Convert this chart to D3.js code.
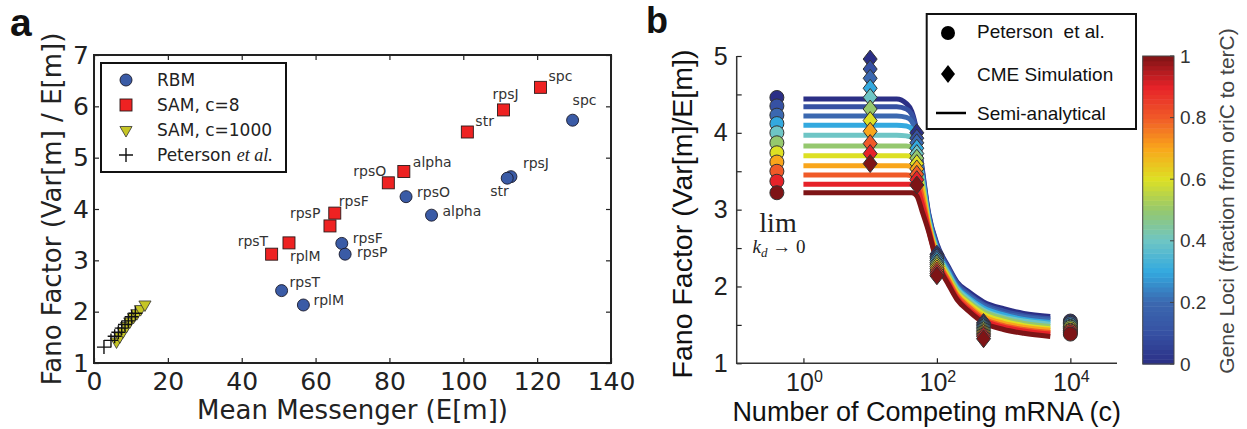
<!DOCTYPE html>
<html>
<head>
<meta charset="utf-8">
<script src="https://d3js.org/d3.v7.min.js"></script>
<style>
  body { margin: 0; background: #fff; }
  svg { display: block; }
</style>
</head>
<body>
<div id="chart"></div>
<script>
// ---------- panel a data ----------
var rbmGenes = ["spc", "rpsJ", "str", "rpsO", "alpha", "rpsF", "rpsP", "rpsT", "rplM"];
var rbmMean  = [129.6, 112.9, 111.9, 84.5, 91.4, 67.1, 68.0, 50.8, 56.7];
var rbmFano  = [5.73, 4.63, 4.60, 4.24, 3.88, 3.33, 3.12, 2.41, 2.13];

var samGenes = ["spc", "rpsJ", "str", "alpha", "rpsO", "rpsF", "rpsP", "rpsT", "rplM"];
var samMean  = [120.9, 110.9, 101.1, 83.9, 79.7, 65.2, 63.9, 48.1, 52.8];
var samFano  = [6.37, 5.93, 5.50, 4.73, 4.51, 3.92, 3.67, 3.12, 3.34];

var sam1000Mean = [6.1, 7.0, 7.9, 8.8, 9.7, 10.7, 11.6, 12.6, 13.8];
var sam1000Fano = [1.42, 1.52, 1.62, 1.72, 1.81, 1.90, 1.97, 2.05, 2.14];

var petersonMean = [2.7, 4.6, 5.6, 6.6, 7.5, 8.4, 9.3, 10.2, 11.2];
var petersonFano = [1.31, 1.44, 1.52, 1.60, 1.68, 1.75, 1.82, 1.90, 1.97];

var xTicksA = [0, 20, 40, 60, 80, 100, 120, 140];
var yTicksA = [1, 2, 3, 4, 5, 6, 7];

// label offsets (px) for the gene annotations
var rbmLabelDx = [0, 12, -17, 11, 11, 11, 12, 8, 10];
var rbmLabelDy = [-15, -9, 18, 0, 1, 0, 3, -4, 0];
var samLabelDx = [8, -11, 8, 9, -35, 4, -40, -34, 1];
var samLabelDy = [-6, -11, -6, -5, -7, -7, -8, -8, 18];

// ---------- panel b data ----------
var geneLoci = [0, 0.1, 0.2, 0.3, 0.4, 0.5, 0.6, 0.7, 0.8, 0.9, 1.0];
var limC = 0.4;   // where the k_d -> 0 limit is drawn
var petersonLim = [4.46, 4.35, 4.23, 4.12, 4.00, 3.87, 3.74, 3.62, 3.50, 3.37, 3.22];
var petersonC = 10000;
var peterson1e4 = [1.55, 1.53, 1.52, 1.50, 1.48, 1.47, 1.45, 1.43, 1.42, 1.40, 1.38];

var cmeC = [10, 50, 100, 500];
var cme10  = [4.96, 4.83, 4.71, 4.58, 4.46, 4.31, 4.16, 4.02, 3.86, 3.73, 3.60];
var cme50  = [4.00, 3.93, 3.87, 3.80, 3.73, 3.67, 3.60, 3.53, 3.46, 3.39, 3.32];
var cme100 = [2.42, 2.39, 2.37, 2.34, 2.31, 2.29, 2.26, 2.23, 2.20, 2.17, 2.14];
var cme500 = [1.53, 1.51, 1.49, 1.47, 1.45, 1.43, 1.41, 1.39, 1.37, 1.35, 1.32];

var semiC = [1, 25, 35, 42, 50, 60, 75, 100, 150, 200, 300, 500, 1000, 2000, 5000];
var semiF = [
  [4.44, 4.44, 4.38, 4.28, 4.02, 3.55, 2.96, 2.56, 2.25, 2.06, 1.93, 1.80, 1.71, 1.65, 1.61],
  [4.34, 4.34, 4.31, 4.24, 3.99, 3.52, 2.94, 2.54, 2.23, 2.04, 1.90, 1.77, 1.68, 1.62, 1.58],
  [4.22, 4.22, 4.20, 4.15, 3.93, 3.48, 2.91, 2.51, 2.21, 2.01, 1.88, 1.75, 1.65, 1.60, 1.56],
  [4.10, 4.10, 4.09, 4.05, 3.86, 3.44, 2.89, 2.49, 2.18, 1.99, 1.85, 1.72, 1.63, 1.57, 1.53],
  [3.97, 3.97, 3.96, 3.94, 3.79, 3.40, 2.86, 2.46, 2.16, 1.97, 1.83, 1.69, 1.60, 1.55, 1.51],
  [3.83, 3.83, 3.83, 3.81, 3.70, 3.35, 2.84, 2.44, 2.14, 1.95, 1.80, 1.67, 1.58, 1.52, 1.48],
  [3.70, 3.70, 3.70, 3.69, 3.61, 3.30, 2.82, 2.42, 2.11, 1.92, 1.78, 1.64, 1.55, 1.49, 1.45],
  [3.57, 3.57, 3.57, 3.56, 3.51, 3.24, 2.79, 2.39, 2.09, 1.90, 1.75, 1.61, 1.52, 1.47, 1.43],
  [3.45, 3.45, 3.45, 3.44, 3.41, 3.16, 2.77, 2.37, 2.07, 1.88, 1.73, 1.58, 1.49, 1.44, 1.40],
  [3.33, 3.33, 3.33, 3.33, 3.30, 3.08, 2.74, 2.34, 2.04, 1.85, 1.70, 1.56, 1.47, 1.42, 1.38],
  [3.22, 3.22, 3.22, 3.22, 3.18, 2.98, 2.72, 2.32, 2.02, 1.83, 1.68, 1.53, 1.44, 1.39, 1.35]
];

var yTicksB = [1, 1.5, 2, 2.5, 3, 3.5, 4, 4.5, 5];
var xTicksB = [1, 100, 10000];
var xTickExpB = ["0", "2", "4"];
var cbTicks = [0, 0.2, 0.4, 0.6, 0.8, 1];
var cbTickLabels = ["0", "0.2", "0.4", "0.6", "0.8", "1"];

// colour map (jet-like, as in the figure)
var cmapPos = [0, 0.1, 0.2, 0.3, 0.4, 0.5, 0.6, 0.7, 0.8, 0.9, 1.0];
var cmapCol = ["#2b2f86", "#3651a3", "#3b68b0", "#33a9df", "#6ec5c5", "#95c86e",
               "#dde024", "#f9a61b", "#f05a28", "#e62229", "#7e1416"];
var cmap = d3.scaleLinear().domain(cmapPos).range(cmapCol).interpolate(d3.interpolateRgb);

var svg = d3.select("#chart").append("svg")
  .attr("width", 1247).attr("height", 429);

function styleAxis(g, fam, size, col) {
  g.attr("font-family", fam).attr("font-size", size);
  g.selectAll(".tick line").attr("stroke", col).attr("stroke-width", 1.2);
  g.selectAll(".tick text").attr("fill", col);
  g.select(".domain").remove();
}

// =============== panel a ===============
var fa = "'DejaVu Sans', sans-serif";
var xA = d3.scaleLinear().domain([0, 140]).range([94, 611]);
var yA = d3.scaleLinear().domain([1, 7]).range([363, 55]);
var gA = svg.append("g");
var intFmt = d3.format("d");

gA.append("g").attr("transform", "translate(0,363)")
  .call(d3.axisBottom(xA).tickValues(xTicksA).tickFormat(intFmt).tickSize(-5).tickSizeOuter(0).tickPadding(9))
  .call(styleAxis, fa, 25, "#222");
gA.append("g").attr("transform", "translate(94,0)")
  .call(d3.axisLeft(yA).tickValues(yTicksA).tickFormat(intFmt).tickSize(-5).tickSizeOuter(0).tickPadding(5))
  .call(styleAxis, fa, 25, "#222");
gA.append("g").attr("transform", "translate(0,55)")
  .call(d3.axisTop(xA).tickValues(xTicksA).tickSize(-5).tickSizeOuter(0).tickFormat(""))
  .call(styleAxis, fa, 25, "#222");
gA.append("g").attr("transform", "translate(611,0)")
  .call(d3.axisRight(yA).tickValues(yTicksA).tickSize(-5).tickSizeOuter(0).tickFormat(""))
  .call(styleAxis, fa, 25, "#222");

gA.append("rect").attr("x", xA(0)).attr("y", yA(7))
  .attr("width", xA(140) - xA(0)).attr("height", yA(1) - yA(7))
  .attr("fill", "none").attr("stroke", "#222").attr("stroke-width", 2);

gA.append("text").attr("x", (xA(0) + xA(140)) / 2).attr("y", 419)
  .attr("text-anchor", "middle").attr("font-family", fa).attr("font-size", 26)
  .attr("fill", "#222").text("Mean Messenger (E[m])");
gA.append("text").attr("transform", "translate(61," + ((yA(1) + yA(7)) / 2) + ") rotate(-90)")
  .attr("text-anchor", "middle").attr("font-family", fa).attr("font-size", 26)
  .attr("fill", "#222").text("Fano Factor (Var[m] / E[m])");

var triDown = d3.symbol().type(d3.symbolTriangle).size(64)();
var cross = "M-7,0H7M0,-7V7";

// RBM circles
gA.selectAll(".rbm").data(rbmMean).enter().append("circle")
  .attr("cx", function(d) { return xA(d); })
  .attr("cy", function(d, i) { return yA(rbmFano[i]); })
  .attr("r", 6).attr("fill", "#3a5ba6").attr("stroke", "#1a1a2a").attr("stroke-width", 0.9);
// SAM c=8 squares
gA.selectAll(".sam").data(samMean).enter().append("rect")
  .attr("x", function(d) { return xA(d) - 6; })
  .attr("y", function(d, i) { return yA(samFano[i]) - 6; })
  .attr("width", 12).attr("height", 12)
  .attr("fill", "#ee2222").attr("stroke", "#2a1a1a").attr("stroke-width", 0.9);
// SAM c=1000 triangles
gA.selectAll(".sam1000").data(sam1000Mean).enter().append("path")
  .attr("d", triDown)
  .attr("transform", function(d, i) { return "translate(" + xA(d) + "," + yA(sam1000Fano[i]) + ") rotate(180)"; })
  .attr("fill", "#c6c524").attr("stroke", "#333").attr("stroke-width", 0.8);
// Peterson crosses
gA.selectAll(".pet").data(petersonMean).enter().append("path")
  .attr("d", cross)
  .attr("transform", function(d, i) { return "translate(" + xA(d) + "," + yA(petersonFano[i]) + ")"; })
  .attr("stroke", "#111").attr("stroke-width", 1.4).attr("fill", "none");

// gene labels
gA.selectAll(".rbml").data(rbmGenes).enter().append("text")
  .attr("x", function(d, i) { return xA(rbmMean[i]) + rbmLabelDx[i]; })
  .attr("y", function(d, i) { return yA(rbmFano[i]) + rbmLabelDy[i]; })
  .attr("font-family", fa).attr("font-size", 14).attr("fill", "#333")
  .text(function(d) { return d; });
gA.selectAll(".saml").data(samGenes).enter().append("text")
  .attr("x", function(d, i) { return xA(samMean[i]) + samLabelDx[i]; })
  .attr("y", function(d, i) { return yA(samFano[i]) + samLabelDy[i]; })
  .attr("font-family", fa).attr("font-size", 14).attr("fill", "#333")
  .text(function(d) { return d; });

// legend a
var legA = gA.append("g");
legA.append("rect").attr("x", 101).attr("y", 63).attr("width", 185).attr("height", 109)
  .attr("fill", "#fff").attr("stroke", "#111").attr("stroke-width", 2);
legA.append("circle").attr("cx", 126).attr("cy", 80).attr("r", 6)
  .attr("fill", "#3a5ba6").attr("stroke", "#1a1a2a").attr("stroke-width", 0.9);
legA.append("rect").attr("x", 120).attr("y", 99).attr("width", 12).attr("height", 12)
  .attr("fill", "#ee2222").attr("stroke", "#2a1a1a").attr("stroke-width", 0.9);
legA.append("path").attr("d", triDown).attr("transform", "translate(126,130) rotate(180)")
  .attr("fill", "#c6c524").attr("stroke", "#333").attr("stroke-width", 0.8);
legA.append("path").attr("d", cross).attr("transform", "translate(126,155)")
  .attr("stroke", "#111").attr("stroke-width", 1.4);
var legAText = ["RBM", "SAM, c=8", "SAM, c=1000"];
legA.selectAll(".lt").data(legAText).enter().append("text")
  .attr("x", 157).attr("y", function(d, i) { return 86 + i * 25; })
  .attr("font-family", fa).attr("font-size", 17).attr("fill", "#222")
  .text(function(d) { return d; });
var petT = legA.append("text").attr("x", 157).attr("y", 161)
  .attr("font-family", fa).attr("font-size", 17).attr("fill", "#222");
petT.append("tspan").text("Peterson ");
petT.append("tspan").attr("font-family", "'Liberation Serif', serif").attr("font-style", "italic")
  .attr("font-size", 18).text("et al.");

svg.append("text").attr("x", 10).attr("y", 35.5)
  .attr("font-family", "'Liberation Sans', Arial, sans-serif").attr("font-weight", "bold")
  .attr("font-size", 39).attr("fill", "#111").text("a");

// =============== panel b ===============
var fb = "'Liberation Sans', Arial, sans-serif";
var xB = d3.scaleLog().domain([0.1, 50000]).range([736.7, 1117]);
var yB = d3.scaleLinear().domain([1, 5]).range([363.3, 56]);
var gB = svg.append("g");

gB.append("g").attr("transform", "translate(736.7,0)")
  .call(d3.axisLeft(yB).tickValues(yTicksB).tickSize(-5).tickSizeOuter(0).tickPadding(9)
    .tickFormat(function(d) { return d % 1 === 0 ? d : ""; }))
  .call(styleAxis, fb, 25, "#222");
gB.append("g").attr("transform", "translate(0,363.3)")
  .call(d3.axisBottom(xB).tickValues(xTicksB).tickSize(-5).tickSizeOuter(0).tickFormat(""))
  .call(styleAxis, fb, 25, "#222");
gB.append("path")
  .attr("d", "M" + xB(0.1) + "," + yB(5) + "V" + yB(1) + "H" + xB(50000))
  .attr("fill", "none").attr("stroke", "#333").attr("stroke-width", 1.5);

var xlab = gB.selectAll(".xl").data(xTicksB).enter().append("text")
  .attr("x", function(d) { return xB(d) + 1; }).attr("y", 391)
  .attr("text-anchor", "middle").attr("font-family", fb).attr("font-size", 25).attr("fill", "#222");
xlab.append("tspan").text("10");
xlab.append("tspan").attr("dy", -9).attr("font-size", 16)
  .text(function(d, i) { return xTickExpB[i]; });

gB.append("text").attr("x", 926.7).attr("y", 421)
  .attr("text-anchor", "middle").attr("font-family", fb).attr("font-size", 27)
  .attr("fill", "#111").text("Number of Competing mRNA (c)");
gB.append("text").attr("transform", "translate(691.5,214) rotate(-90)")
  .attr("text-anchor", "middle").attr("font-family", fb).attr("font-size", 28.5)
  .attr("fill", "#111").text("Fano Factor (Var[m]/E[m])");

// semi-analytical curves
var line = d3.line()
  .x(function(d, i) { return xB(semiC[i]); })
  .y(function(d) { return yB(d); })
  .curve(d3.curveMonotoneX);
gB.selectAll(".semi").data(semiF).enter().append("path")
  .attr("d", function(d) { return line(d); })
  .attr("fill", "none").attr("stroke-width", 5).attr("stroke-linejoin", "round")
  .attr("stroke", function(d, i) { return cmap(geneLoci[i]); });

// CME diamonds
var diamond = "M0,-9L7,0L0,9L-7,0Z";
var cmeSets = [cme10, cme50, cme100, cme500];
cmeSets.forEach(function(set, k) {
  gB.selectAll(".cme" + k).data(set).enter().append("path")
    .attr("d", diamond)
    .attr("transform", function(d) { return "translate(" + xB(cmeC[k]) + "," + yB(d) + ")"; })
    .attr("fill", function(d, i) { return cmap(geneLoci[i]); })
    .attr("stroke", "#333").attr("stroke-width", 1);
});

// Peterson circles
gB.selectAll(".plim").data(petersonLim).enter().append("circle")
  .attr("cx", xB(limC)).attr("cy", function(d) { return yB(d); }).attr("r", 7)
  .attr("fill", function(d, i) { return cmap(geneLoci[i]); })
  .attr("stroke", "#333").attr("stroke-width", 1);
gB.selectAll(".p4").data(peterson1e4).enter().append("circle")
  .attr("cx", xB(petersonC)).attr("cy", function(d) { return yB(d); }).attr("r", 7)
  .attr("fill", function(d, i) { return cmap(geneLoci[i]); })
  .attr("stroke", "#333").attr("stroke-width", 1);

// lim k_d -> 0
var fs = "'Liberation Serif', 'Times New Roman', serif";
gB.append("text").attr("x", 778).attr("y", 232).attr("text-anchor", "middle")
  .attr("font-family", fs).attr("font-size", 28).attr("fill", "#222").text("lim");
var kd = gB.append("text").attr("x", 779).attr("y", 253).attr("text-anchor", "middle")
  .attr("font-family", fs).attr("font-size", 19).attr("fill", "#222");
kd.append("tspan").attr("font-style", "italic").text("k");
kd.append("tspan").attr("font-style", "italic").attr("font-size", 13).attr("dy", 4).text("d");
kd.append("tspan").attr("dy", -4).text(" \u2192 0");

// legend b
var legB = gB.append("g");
legB.append("rect").attr("x", 926.7).attr("y", 14).attr("width", 209.3).attr("height", 115)
  .attr("fill", "#fff").attr("stroke", "#111").attr("stroke-width", 2);
legB.append("circle").attr("cx", 948).attr("cy", 33).attr("r", 7).attr("fill", "#000");
legB.append("path").attr("d", diamond).attr("transform", "translate(948,74)").attr("fill", "#000");
legB.append("line").attr("x1", 936).attr("x2", 966).attr("y1", 113).attr("y2", 113)
  .attr("stroke", "#000").attr("stroke-width", 2.5);
var legBText = ["Peterson  et al.", "CME Simulation", "Semi-analytical"];
var legBy = [38, 81, 120];
legB.selectAll(".lb").data(legBText).enter().append("text")
  .attr("x", 977).attr("y", function(d, i) { return legBy[i]; })
  .attr("font-family", fb).attr("font-size", 19).attr("fill", "#111")
  .attr("xml:space", "preserve").style("white-space", "pre")
  .text(function(d) { return d; });

// colour bar
var yC = d3.scaleLinear().domain([0, 1]).range([364, 56]);
var bands = d3.range(64);
var cb = gB.append("g");
cb.selectAll("rect.band").data(bands).enter().append("rect")
  .attr("x", 1142.7).attr("width", 31.3)
  .attr("y", function(k) { return yC((k + 1) / 64); })
  .attr("height", function(k) { return yC(k / 64) - yC((k + 1) / 64) + 0.5; })
  .attr("fill", function(k) { return cmap((k + 0.5) / 64); });
cb.append("rect").attr("x", 1142.7).attr("y", 56).attr("width", 31.3).attr("height", 308)
  .attr("fill", "none").attr("stroke", "#444").attr("stroke-width", 1);
cb.selectAll(".cbt").data(cbTicks).enter().append("line")
  .attr("x1", 1174).attr("x2", 1170).attr("y1", function(d) { return yC(d); })
  .attr("y2", function(d) { return yC(d); }).attr("stroke", "#444").attr("stroke-width", 1);
cb.selectAll(".cbl").data(cbTicks).enter().append("text")
  .attr("x", 1180).attr("y", function(d) { return yC(d); }).attr("dy", "0.35em")
  .attr("font-family", fb).attr("font-size", 19).attr("fill", "#333")
  .text(function(d, i) { return cbTickLabels[i]; });
cb.append("text").attr("transform", "translate(1233.5,201) rotate(-90)")
  .attr("text-anchor", "middle").attr("font-family", fb).attr("font-size", 21)
  .attr("fill", "#444").text("Gene Loci (fraction from oriC to terC)");

svg.append("text").attr("x", 646).attr("y", 33)
  .attr("font-family", fb).attr("font-weight", "bold")
  .attr("font-size", 36).attr("fill", "#111").text("b");
</script>
</body>
</html>
